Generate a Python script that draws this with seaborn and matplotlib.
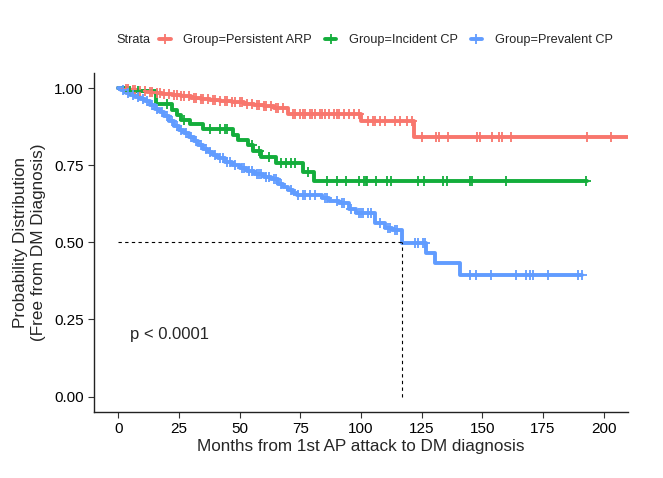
import numpy as np
import pandas as pd
import matplotlib
matplotlib.use("Agg")
import matplotlib.pyplot as plt
from matplotlib.lines import Line2D
import seaborn as sns

# KM step curves: event time (months) -> survival after the drop
groups = ["Group=Persistent ARP", "Group=Incident CP", "Group=Prevalent CP"]
colors = ["#F8766D", "#13AD3B", "#619CFF"]

arp_t = [0, 2, 5, 8, 12, 15, 18, 22, 26, 30, 34, 38, 42, 47, 52, 56, 60, 64, 70, 100, 122, 213]
arp_s = [1.0, 0.997, 0.994, 0.99, 0.987, 0.983, 0.98, 0.977, 0.973, 0.969, 0.965, 0.962,
         0.958, 0.954, 0.95, 0.946, 0.942, 0.937, 0.915, 0.892, 0.842, 0.842]
arp_cens = [3, 4, 6, 7, 9, 11, 13, 14, 16, 17, 19, 21, 23, 24, 26, 27, 29, 31, 32, 34, 35,
            37, 39, 40, 42, 44, 45, 47, 48, 50, 51, 53, 55, 57, 58, 60, 61, 63, 65, 66, 68,
            72, 73, 75, 76, 77, 79, 80, 81, 83, 84, 85, 87, 89, 90, 91, 93, 95, 97, 99, 103,
            105, 106, 108, 110, 114, 116, 119, 121, 125, 131, 132.3, 136, 148, 149, 154, 157,
            158, 162, 193, 203]

inc_t = [0, 4, 15.7, 22, 24, 26, 29.5, 35, 47.3, 49.4, 53.5, 55.5, 59, 65, 76, 80.5, 193]
inc_s = [1.0, 0.99, 0.95, 0.929, 0.913, 0.896, 0.884, 0.866, 0.849, 0.832, 0.815, 0.795,
         0.776, 0.756, 0.729, 0.699, 0.699]
inc_cens = [5, 8, 20, 27, 38, 42, 44, 45, 55, 58, 62, 67, 69, 71, 73, 78, 86.1, 90.2, 93.7,
            99.2, 101.3, 102, 102.7, 106.2, 110.8, 112.2, 123.5, 126, 133.9, 135.3, 145,
            145.7, 159.9, 192.9]

prev_t = [0, 1, 3, 5, 7, 9, 11, 13, 15, 17, 19, 21, 23, 25, 27, 29, 31, 33, 35, 37, 39, 41,
          44, 47, 50, 53, 56, 60, 63, 66, 68, 70, 72, 73.5, 84, 87, 91, 95, 98, 106, 110, 113,
          117, 127, 130.5, 141, 191]
prev_s = [1.0, 0.993, 0.985, 0.978, 0.972, 0.965, 0.957, 0.945, 0.933, 0.922, 0.908, 0.893,
          0.878, 0.865, 0.853, 0.842, 0.83, 0.815, 0.803, 0.792, 0.783, 0.774, 0.762, 0.75,
          0.74, 0.73, 0.72, 0.712, 0.705, 0.69, 0.68, 0.67, 0.66, 0.654, 0.645, 0.635, 0.627,
          0.607, 0.595, 0.562, 0.548, 0.54, 0.497, 0.467, 0.433, 0.395, 0.395]
prev_cens = [2, 4, 6, 8, 10, 12, 14, 16, 18, 20, 22, 24, 26, 28, 30, 32, 34, 36, 38, 40, 42,
             43, 45, 46, 48, 51, 52, 54, 55, 57, 58, 59, 61, 62, 64, 65, 67, 71, 74, 76, 77,
             79, 81, 85, 86, 90, 92, 93, 96, 99, 100, 101, 103, 104, 108, 111, 112, 114, 115,
             122.1, 123.5, 125.6, 126.3, 144.8, 147.6, 153.7, 164, 168.2, 169.5, 170.9, 177,
             189.4, 191]

median_time = 117
p_label = "p < 0.0001"

curves = [(arp_t, arp_s, arp_cens), (inc_t, inc_s, inc_cens), (prev_t, prev_s, prev_cens)]

rows = []
for g, (t, s, _) in zip(groups, curves):
    for ti, si in zip(t, s):
        rows.append({"time": ti, "surv": si, "group": g})
df = pd.DataFrame(rows)

sns.set_theme(style="ticks")
plt.rcParams["font.family"] = ["Liberation Sans", "DejaVu Sans"]

fig = plt.figure(figsize=(6.63, 4.78), dpi=100)
ax = fig.add_axes([0.1418, 0.138, 0.947 - 0.1418, 0.848 - 0.138])

sns.lineplot(data=df, x="time", y="surv", hue="group", palette=colors, hue_order=groups,
             drawstyle="steps-post", estimator=None, linewidth=2.8, legend=False, ax=ax)

for c, (t, s, cens) in zip(colors, curves):
    t = np.asarray(t)
    s = np.asarray(s)
    idx = np.searchsorted(t, cens, side="right") - 1
    ax.plot(cens, s[idx], linestyle="none", marker="+", markersize=7, mew=1.3, color=c)

# median line
ax.plot([0, median_time], [0.5, 0.5], color="black", linestyle=(0, (3, 3)), linewidth=0.8)
ax.plot([median_time, median_time], [0, 0.5], color="black", linestyle=(0, (3, 3)), linewidth=0.8)

ax.text(5, 0.2, p_label, fontsize=12, ha="left", va="center")

ax.set_xlim(-10, 210)
ax.set_ylim(-0.05, 1.05)
ax.set_xticks(np.arange(0, 201, 25))
ax.set_yticks([0, 0.25, 0.5, 0.75, 1.0])
ax.set_yticklabels(["0.00", "0.25", "0.50", "0.75", "1.00"])
ax.tick_params(labelsize=11, length=4, width=0.8, color="#333333", labelcolor="black")
ax.set_xlabel("Months from 1st AP attack to DM diagnosis", fontsize=12.3, labelpad=2)
ax.set_ylabel("Probability Distribution\n(Free from DM Diagnosis)", fontsize=12.3, labelpad=6)
for sp in ["top", "right"]:
    ax.spines[sp].set_visible(False)
for sp in ["left", "bottom"]:
    ax.spines[sp].set_color("#222222")
    ax.spines[sp].set_linewidth(1.0)

handles = [Line2D([0], [0], color=c, linewidth=2.8, marker="+", markersize=7, mew=1.3)
           for c in colors]
fig.text(0.176, 0.916, "Strata", fontsize=9.2, ha="left", va="center")
fig.legend(handles, groups, loc="center left", bbox_to_anchor=(0.240, 0.916), ncol=3,
           frameon=False, fontsize=9.2, handlelength=0.9, handletextpad=1.0,
           columnspacing=1.0, borderaxespad=0, borderpad=0)

fig.savefig("out.png", dpi=100)
